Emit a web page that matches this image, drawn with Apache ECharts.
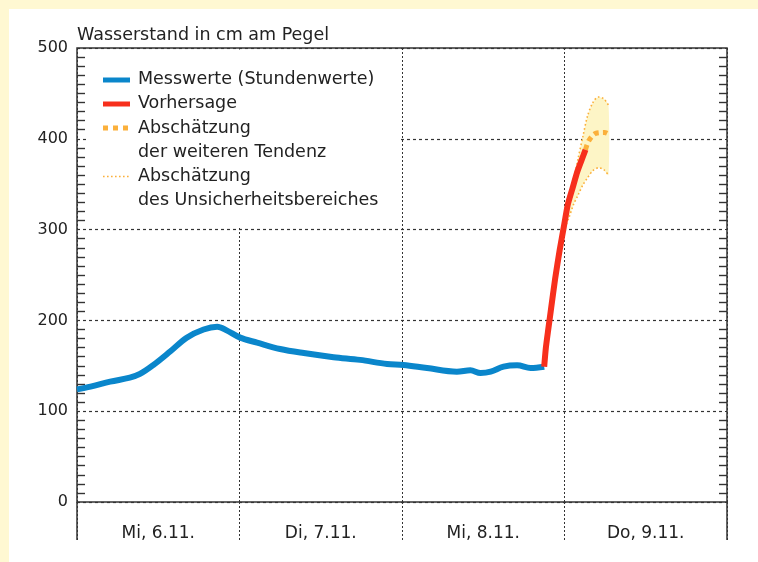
<!DOCTYPE html>
<html>
<head>
<meta charset="utf-8">
<script src="https://cdn.jsdelivr.net/npm/echarts@6/dist/echarts.min.js"></script>
<style>
  html, body { margin: 0; padding: 0; background: #fff8d2; }
  #panel { position: absolute; left: 9px; top: 9px; width: 749px; height: 553px; background: #ffffff; }
  #main { position: absolute; left: 0; top: 0; width: 758px; height: 562px; }
</style>
</head>
<body>
<div id="panel"></div>
<div id="main"></div>
<script>
// ---- data (x in hours since Mi, 6.11. 00:00; y in cm) ----
const dayLabels = ['Mi, 6.11.', 'Di, 7.11.', 'Mi, 8.11.', 'Do, 9.11.'];
const yTicks = [0, 100, 200, 300, 400, 500];

const measuredHours  = [0, 2, 4.9, 7.8, 9.3, 11.3, 13.8, 16.2, 18.7, 20.7, 22.1, 24.1, 26.6, 30.0, 33.5, 37.9, 41.8, 45.8, 48.2, 51.7, 56.1, 58.1, 59.6, 61.1, 63.0, 65.0, 67.0, 69.0];
const measuredValues = [124, 127, 132.5, 137, 141, 151, 166, 181, 190, 193, 189, 181, 175.5, 168.5, 164, 159.5, 156.5, 152, 151, 147.5, 143.5, 145, 142, 143.5, 149, 150.5, 147.5, 149];

const forecastHours  = [69.0, 69.25, 69.6, 70.0, 70.6, 71.3, 71.9, 72.5, 73.2, 73.9, 74.6, 75.1];
const forecastValues = [149, 170, 190, 212, 245, 278, 303, 328, 346, 364, 378, 388];

const trendHours  = [75.1, 75.6, 76.6, 77.9, 78.3];
const trendValues = [388, 398, 406, 407, 406];

const bandHours = [71.8, 72.6, 73.3, 74.0, 74.7, 75.4, 76.2, 77.0, 77.8, 78.5];
const bandUpper = [298, 328, 352, 378, 402, 425, 440, 446, 444, 437];
const bandLower = [298, 312, 327, 338, 349, 357, 365, 368, 366, 360];

// ---- build ----
const pairs = (xs, ys) => xs.map((x, i) => [x, ys[i]]);
const FONT = 'DejaVu Sans';
const TXT = '#222222';
const GRID = '#333333';
const BLUE = '#0a86cb';
const RED = '#f72f1c';
const ORANGE = '#fbb03b';
const LEGEND_FONT = '17.5px "DejaVu Sans"';

const chart = echarts.init(document.getElementById('main'), null, { renderer: 'canvas' });

const yAxisBase = {
  type: 'value', min: yTicks[0], max: yTicks[yTicks.length - 1], interval: 100,
  axisLine: { show: false },
  axisTick: { show: false, inside: true },
  minorTick: { show: true, splitNumber: 10, length: 8, lineStyle: { color: GRID, width: 1.4 } },
  minorSplitLine: { show: false }
};

chart.setOption({
  animation: false,
  backgroundColor: 'transparent',
  textStyle: { fontFamily: FONT },
  title: {
    text: 'Wasserstand in cm am Pegel',
    left: 72, top: 21,
    textStyle: { fontFamily: FONT, fontSize: 17.5, fontWeight: 'normal', color: TXT }
  },
  grid: {
    left: 77, right: 31, top: 48, bottom: 60,
    show: true, borderColor: GRID, borderWidth: 1.5, backgroundColor: 'transparent'
  },
  xAxis: [
    {
      type: 'value', min: 0, max: 96, interval: 96,
      axisLine: { show: false },
      axisLabel: { show: false },
      splitLine: { show: false },
      axisTick: { show: true, length: 38, lineStyle: { color: GRID, width: 1.5 } }
    },
    {
      type: 'category', data: dayLabels, boundaryGap: true, position: 'bottom', offset: 0,
      axisLine: { show: false },
      axisTick: { show: true, interval: 0, alignWithLabel: false, length: 38, lineStyle: { color: GRID, width: 1, type: [2, 2] } },
      axisLabel: { interval: 0, margin: 23, fontSize: 17, color: TXT, fontFamily: FONT },
      splitLine: { show: true, interval: 0, lineStyle: { color: GRID, width: 1, type: [2, 2] } }
    }
  ],
  yAxis: [
    Object.assign({}, yAxisBase, {
      position: 'left',
      axisLabel: { fontSize: 16, color: TXT, margin: 9, fontFamily: FONT },
      splitLine: { show: true, lineStyle: { color: GRID, width: 1.2, type: [3, 3] } }
    }),
    Object.assign({}, yAxisBase, {
      position: 'right',
      axisLabel: { show: false },
      splitLine: { show: false }
    })
  ],
  series: [
    {
      name: 'Abschätzung des Unsicherheitsbereiches (Fläche)',
      type: 'custom', xAxisIndex: 0, yAxisIndex: 0, z: 2, silent: true,
      data: [[bandHours[0], bandUpper[0]]],
      renderItem: function (params, api) {
        const pts = [];
        for (let i = 0; i < bandHours.length; i++) pts.push(api.coord([bandHours[i], bandUpper[i]]));
        for (let i = bandHours.length - 1; i >= 0; i--) pts.push(api.coord([bandHours[i], bandLower[i]]));
        return { type: 'polygon', shape: { points: pts, smooth: 0.25 }, style: { fill: '#fdf5c6' } };
      }
    },
    {
      name: 'Unsicherheit oben', type: 'line', xAxisIndex: 0, z: 3, showSymbol: false, smooth: 0.3,
      data: pairs(bandHours, bandUpper),
      lineStyle: { color: ORANGE, width: 1.6, type: [1.6, 2.4] }
    },
    {
      name: 'Unsicherheit unten', type: 'line', xAxisIndex: 0, z: 3, showSymbol: false, smooth: 0.3,
      data: pairs(bandHours, bandLower),
      lineStyle: { color: ORANGE, width: 1.6, type: [1.6, 2.4] }
    },
    {
      name: 'Messwerte (Stundenwerte)', type: 'line', xAxisIndex: 0, z: 4, showSymbol: false, smooth: 0.35,
      data: pairs(measuredHours, measuredValues),
      lineStyle: { color: BLUE, width: 6, type: 'solid' }
    },
    {
      name: 'Vorhersage', type: 'line', xAxisIndex: 0, z: 6, showSymbol: false, smooth: 0.2,
      data: pairs(forecastHours, forecastValues),
      lineStyle: { color: RED, width: 6, type: 'solid' }
    },
    {
      name: 'Abschätzung der weiteren Tendenz', type: 'line', xAxisIndex: 0, z: 5, showSymbol: false, smooth: 0.3,
      data: pairs(trendHours, trendValues),
      lineStyle: { color: ORANGE, width: 5, type: [5, 4] }
    }
  ],
  graphic: [
    { type: 'rect', z: 1, shape: { x: 89, y: 49.5, width: 311, height: 178.5 }, style: { fill: '#ffffff' } },
    { type: 'line', z: 10, shape: { x1: 103, y1: 80, x2: 130, y2: 80 }, style: { stroke: BLUE, lineWidth: 5 } },
    { type: 'line', z: 10, shape: { x1: 103, y1: 104, x2: 130, y2: 104 }, style: { stroke: RED, lineWidth: 5 } },
    { type: 'line', z: 10, shape: { x1: 103, y1: 128, x2: 130, y2: 128 }, style: { stroke: ORANGE, lineWidth: 5, lineDash: [5, 5] } },
    { type: 'line', z: 10, shape: { x1: 103, y1: 176.5, x2: 130, y2: 176.5 }, style: { stroke: ORANGE, lineWidth: 1.6, lineDash: [1.6, 2.4] } },
    { type: 'text', z: 10, x: 138, y: 79, style: { text: 'Messwerte (Stundenwerte)', font: LEGEND_FONT, fill: TXT, verticalAlign: 'middle' } },
    { type: 'text', z: 10, x: 138, y: 103.5, style: { text: 'Vorhersage', font: LEGEND_FONT, fill: TXT, verticalAlign: 'middle' } },
    { type: 'text', z: 10, x: 138, y: 128, style: { text: 'Abschätzung', font: LEGEND_FONT, fill: TXT, verticalAlign: 'middle' } },
    { type: 'text', z: 10, x: 138, y: 152.5, style: { text: 'der weiteren Tendenz', font: LEGEND_FONT, fill: TXT, verticalAlign: 'middle' } },
    { type: 'text', z: 10, x: 138, y: 176.5, style: { text: 'Abschätzung', font: LEGEND_FONT, fill: TXT, verticalAlign: 'middle' } },
    { type: 'text', z: 10, x: 138, y: 200.5, style: { text: 'des Unsicherheitsbereiches', font: LEGEND_FONT, fill: TXT, verticalAlign: 'middle' } }
  ]
});
</script>
</body>
</html>
